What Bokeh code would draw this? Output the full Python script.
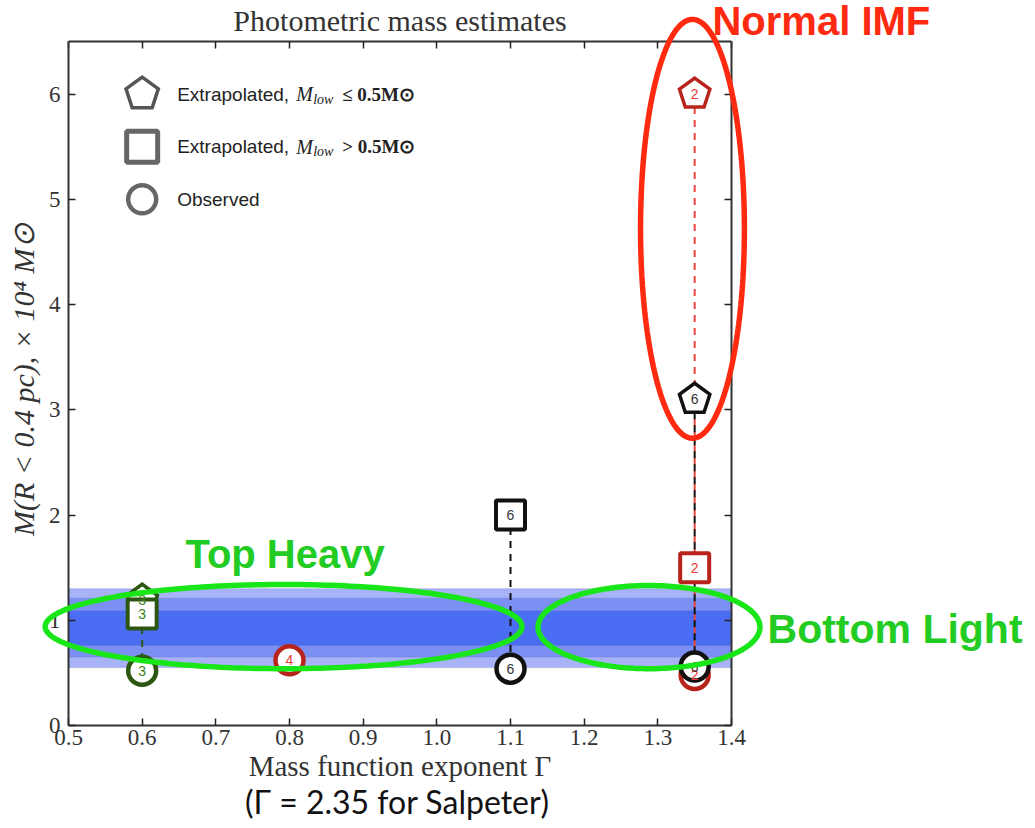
import numpy as np
from bokeh.plotting import figure
from bokeh.models import (Range1d, FixedTicker, LinearAxis, Label, PolyAnnotation,
                          BoxAnnotation)
from bokeh.core.properties import value
from bokeh.embed import file_html
from bokeh.resources import INLINE

# ---------------- data ----------------
x_ticks = [0.5, 0.6, 0.7, 0.8, 0.9, 1.0, 1.1, 1.2, 1.3, 1.4]
x_tick_labels = ["0.5", "0.6", "0.7", "0.8", "0.9", "1.0", "1.1", "1.2", "1.3", "1.4"]
y_ticks = [0, 1, 2, 3, 4, 5, 6]
y_tick_labels = ["0", "1", "2", "3", "4", "5", "6"]

# extrapolated, M_low <= 0.5 (pentagons)
pent_x = [0.6, 1.35, 1.35]
pent_y = [1.19, 6.0, 3.1]
pent_n = ["3", "2", "6"]
pent_c = ["green", "red", "black"]

# extrapolated, M_low > 0.5 (squares)
sq_x = [0.6, 1.1, 1.35]
sq_y = [1.06, 2.0, 1.5]
sq_n = ["3", "6", "2"]
sq_c = ["green", "black", "red"]

# observed (circles)
circ_x = [0.6, 0.8, 1.1, 1.35, 1.35]
circ_y = [0.52, 0.62, 0.54, 0.48, 0.56]
circ_n = ["3", "4", "6", "2", "6"]
circ_c = ["green", "red", "black", "red", "black"]

# dashed connectors: (x, top value, bottom value, colour)
conn_x = [0.6, 1.35, 1.1, 1.35]
conn_top = [1.06, 6.0, 2.0, 3.1]
conn_bot = [0.52, 0.48, 0.54, 0.56]
conn_c = ["green", "red", "black", "black"]

# dynamical mass band
band_low = [0.55, 0.65, 0.76]
band_high = [1.30, 1.21, 1.09]
band_mid = 0.89

# ---------------- layout ----------------
X0, X1, Y0, Y1 = 0.5, 1.4, 0.0, 6.5          # axes box in data units
W, H = 1025, 826                              # canvas
FL, FR, FT, FB = 68, 731, 41, 725             # axes box in canvas pixels
PX_X = (FR - FL) / (X1 - X0)
PX_Y = (FB - FT) / (Y1 - Y0)
XR = (X0 - FL / PX_X, X0 + (W - FL) / PX_X)
YR = (Y0 - (H - FB) / PX_Y, Y1 + FT / PX_Y)

EDGE = {"green": "#2d5710", "red": "#b8231c", "black": "#111111"}
TXT = {"green": "#3f7f18", "red": "#ee3a33", "black": "#333333"}
SERIF = "Liberation Serif"
SANS = "Liberation Sans"

p = figure(width=W, height=H, x_range=Range1d(*XR), y_range=Range1d(*YR),
           x_axis_type=None, y_axis_type=None,
           output_backend="svg", toolbar_location=None,
           min_border=0, min_border_left=0, min_border_right=0,
           min_border_top=0, min_border_bottom=0)
p.outline_line_color = None
p.background_fill_color = "white"
p.border_fill_color = "white"


def style_axis(ax):
    ax.major_tick_in = 7
    ax.major_tick_out = 0
    ax.minor_tick_line_color = None
    ax.major_tick_line_width = 1.5
    ax.major_tick_line_color = "#222222"
    ax.axis_line_color = "#333333"
    ax.axis_line_width = 2
    ax.major_label_text_font = SERIF
    ax.major_label_text_font_size = "23px"
    ax.major_label_text_color = "#333333"
    ax.axis_label_text_font = SERIF
    ax.axis_label_text_color = "#333333"


xa = LinearAxis(fixed_location=Y0, bounds=(X0, X1), ticker=FixedTicker(ticks=x_ticks),
                major_label_overrides=dict(zip(x_ticks, x_tick_labels)),
                axis_label="Mass function exponent Γ")
style_axis(xa)
xa.major_label_standoff = 4
xa.axis_label_text_font_size = "29px"
xa.axis_label_text_font_style = "normal"
xa.axis_label_standoff = 2
p.add_layout(xa, "below")

ya = LinearAxis(fixed_location=X0, bounds=(Y0, Y1), ticker=FixedTicker(ticks=y_ticks),
                major_label_overrides=dict(zip(y_ticks, y_tick_labels)),
                axis_label="\u00a0\u00a0\u00a0\u00a0M(R < 0.4 pc),   ×  10⁴ M⊙")
style_axis(ya)
ya.major_label_standoff = 8
ya.axis_label_text_font_size = "30px"
ya.axis_label_text_font_style = "italic"
ya.axis_label_standoff = 6
p.add_layout(ya, "left")

ta = LinearAxis(fixed_location=Y1, bounds=(X0, X1), ticker=FixedTicker(ticks=x_ticks))
style_axis(ta)
ta.major_label_text_color = None
p.add_layout(ta, "above")

ra = LinearAxis(fixed_location=X1, bounds=(Y0, Y1), ticker=FixedTicker(ticks=y_ticks))
style_axis(ra)
ra.major_label_text_color = None
p.add_layout(ra, "right")

# ---------------- band ----------------
band_cols = ["#a7b2f7", "#7c8ff3", "#4b6df4"]
for lo, hi, c in zip(band_low, band_high, band_cols):
    p.add_layout(BoxAnnotation(left=X0, right=X1, bottom=lo, top=hi, fill_color=c,
                               fill_alpha=1.0, line_color="#6673c4", line_width=1,
                               level="underlay"))
p.segment(x0=[X0], y0=[band_mid], x1=[X1], y1=[band_mid], line_color="#0a55ff",
          line_width=5, level="underlay")

# ---------------- connectors ----------------
p.segment(x0=conn_x, y0=conn_top, x1=conn_x, y1=conn_bot,
          line_color=[EDGE[c] if c != "red" else "#e8453c" for c in conn_c],
          line_width=2, line_dash="7 6")


# ---------------- markers ----------------
def pentagon(xc, yc, r):
    ang = np.deg2rad(90 + 72 * np.arange(5))
    return list(xc + r * np.cos(ang) / PX_X), list(yc + r * np.sin(ang) / PX_Y)


pxs, pys = [], []
for xc, yc in zip(pent_x, pent_y):
    a, b = pentagon(xc, yc, 16)
    pxs.append(a)
    pys.append(b)
p.patches(pxs, pys, fill_color="white", line_color=[EDGE[c] for c in pent_c],
          line_width=3.5, line_join="miter")

p.scatter(sq_x, sq_y, marker="square", size=29, fill_color="white",
          line_color=[EDGE[c] for c in sq_c], line_width=4)

p.scatter(circ_x, circ_y, marker="circle", size=28, fill_color="white",
          line_color=[EDGE[c] for c in circ_c], line_width=4.5)

all_x = pent_x + sq_x + circ_x
all_y = pent_y + sq_y + circ_y
all_n = pent_n + sq_n + circ_n
all_c = [TXT[c] for c in pent_c + sq_c + circ_c]
p.text(all_x, all_y, text=all_n, text_color=all_c, text_align="center",
       text_baseline="middle", text_font=value(SANS), text_font_size="14px")


def lab(x, y, t, xo=0, yo=0, font=SANS, size="18px", style="normal", color="#222222",
        align="left", base="middle"):
    p.add_layout(Label(x=x, y=y, x_offset=xo, y_offset=yo, text=t, text_font=font,
                       text_font_size=size, text_font_style=style, text_color=color,
                       text_align=align, text_baseline=base))


# title
lab((X0 + X1) / 2, Y1, "Photometric mass estimates", yo=21, font=SERIF, size="30px",
    color="#333333", align="center")

# ---------------- legend (drawn by hand) ----------------
LEG_X = 0.6
LEG_Y = [6.0, 5.5, 5.0]
lx, ly = pentagon(LEG_X, LEG_Y[0], 17)
p.patch(lx, ly, fill_color="white", line_color="#555555", line_width=3.5, line_join="miter")
p.scatter([LEG_X], [LEG_Y[1]], marker="square", size=31, fill_color="white",
          line_color="#666666", line_width=5)
p.scatter([LEG_X], [LEG_Y[2]], marker="circle", size=28, fill_color="white",
          line_color="#666666", line_width=4.5)

for i, rel in enumerate(["≤", ">"]):
    yy = LEG_Y[i]
    lab(LEG_X, yy, "Extrapolated,", xo=35, size="19px")
    lab(LEG_X, yy, "M", xo=154, font=SERIF, size="20px", style="italic")
    lab(LEG_X, yy, "low", xo=171, yo=-5, font=SERIF, size="14px", style="italic")
    lab(LEG_X, yy, rel + " 0.5M⊙", xo=200, font=SERIF, size="19px", style="bold")
lab(LEG_X, LEG_Y[2], "Observed", xo=35, size="19px")

# ---------------- highlight ellipses and labels ----------------
t = np.linspace(0, 2 * np.pi, 240)
ellipses = [
    # (centre x, centre y, half width, half height, colour)
    (1.347, 4.72, 0.0705, 1.99, "#ff2a10"),
    (0.792, 0.94, 0.3236, 0.40, "#19e619"),
    (1.288, 0.935, 0.1506, 0.395, "#19e619"),
]
for cx, cy, ax_, ay_, col in ellipses:
    p.add_layout(PolyAnnotation(xs=list(cx + ax_ * np.cos(t)), ys=list(cy + ay_ * np.sin(t)),
                                fill_color=None, fill_alpha=0, line_color=col,
                                line_alpha=1.0, line_width=5.5))

lab(1.522, 6.695, "Normal IMF", size="40px", style="bold", color="#ff2a10", align="center")
lab(0.794, 1.633, "Top Heavy", size="40px", style="bold", color="#22cc22", align="center")
lab(1.622, 0.921, "Bottom Light", size="41px", style="bold", color="#22cc22", align="center")

lab(0.946, Y0, "(Γ = 2.35 for Salpeter)", yo=-76, font="Lato", size="32px",
    color="#111111", align="center")

open("out.html", "w").write(file_html(p, INLINE))
